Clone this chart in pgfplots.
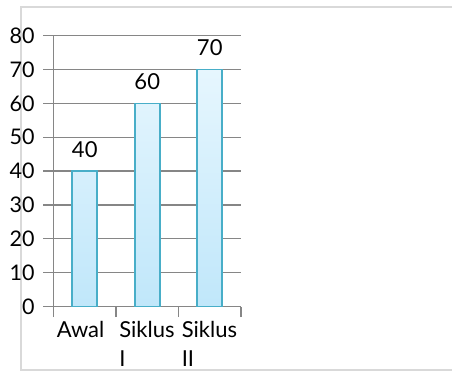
\documentclass[border=0pt]{standalone}
\usepackage{pgfplots}
\pgfplotsset{compat=1.18}
\usepackage{fontspec}
\setmainfont{Lato}

\definecolor{barline}{RGB}{72,174,200}
\definecolor{bartop}{RGB}{230,246,254}
\definecolor{barbot}{RGB}{192,231,250}
\definecolor{gridgray}{RGB}{134,134,134}
\definecolor{framegray}{RGB}{217,217,217}

\begin{document}
\begin{tikzpicture}[x=1bp,y=1bp]
\useasboundingbox (0,0) rectangle (452,372);
% chart frame
\draw[framegray, line width=1.5bp] (21,2) rectangle (480,365);
\begin{axis}[
  at={(53.5bp,65.5bp)}, anchor=south west,
  scale only axis, width=187.5bp, height=270.8bp,
  xmin=-0.5, xmax=2.5, ymin=0, ymax=80,
  ytick={0,10,...,80},
  xtick={-0.5,0.5,1.5,2.5},
  x tick label as interval,
  xticklabels={Awal, Siklus\\I, Siklus\\II},
  axis x line*=bottom, axis y line*=left,
  axis line style={gridgray, line width=1.3bp, -},
  ymajorgrids,
  major grid style={gridgray, line width=1.3bp},
  tick align=outside,
  major tick length=10.5bp,
  every tick/.style={gridgray, line width=1.3bp},
  /pgf/number format/assume math mode=true,
  yticklabel style={font=\fontsize{21.5bp}{24bp}\selectfont, text=black, xshift=-5bp},
  xticklabel style={font=\fontsize{22bp}{29bp}\selectfont, text=black,
    text width=56bp, align=left, anchor=north, yshift=-1bp},
  ybar, bar width=25bp,
  nodes near coords,
  nodes near coords style={font=\fontsize{22bp}{27bp}\selectfont, text=black,
    inner sep=0pt, yshift=12.7bp},
]
\addplot[draw=barline, line width=1.8bp, top color=bartop, bottom color=barbot]
  coordinates {(0,40) (1,60) (2,70)};
\end{axis}
\end{tikzpicture}
\end{document}
